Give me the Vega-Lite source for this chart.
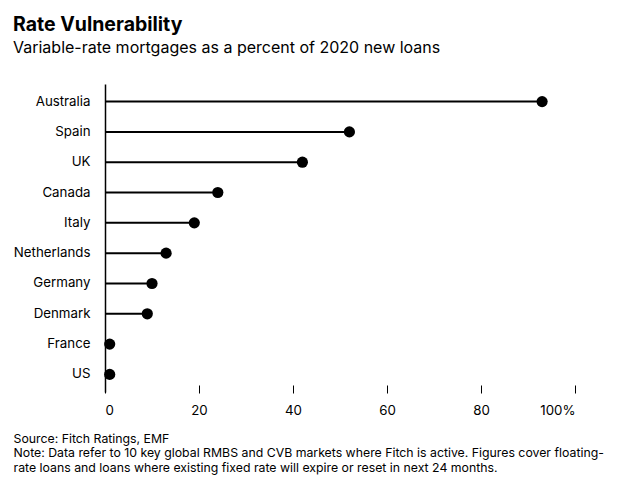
{
  "$schema": "https://vega.github.io/schema/vega-lite/v6.json",
  "width": 470,
  "height": 308,
  "autosize": "none",
  "padding": {"left": 105, "top": 84, "right": 65, "bottom": 91},
  "background": "white",
  "config": {"view": {"stroke": null}},
  "title": {
    "text": "Rate Vulnerability",
    "subtitle": "Variable-rate mortgages as a percent of 2020 new loans",
    "anchor": "start",
    "frame": "group",
    "dx": -92,
    "offset": 27,
    "font": "Inter",
    "fontSize": 19.5,
    "fontWeight": "bold",
    "color": "black",
    "subtitleFont": "Inter",
    "subtitleFontSize": 16,
    "subtitleColor": "black",
    "subtitlePadding": 5
  },
  "data": {
    "values": [
      {"country": "Australia", "value": 93},
      {"country": "Spain", "value": 52},
      {"country": "UK", "value": 42},
      {"country": "Canada", "value": 24},
      {"country": "Italy", "value": 19},
      {"country": "Netherlands", "value": 13},
      {"country": "Germany", "value": 10},
      {"country": "Denmark", "value": 9},
      {"country": "France", "value": 1},
      {"country": "US", "value": 1}
    ]
  },
  "encoding": {
    "y": {
      "field": "country",
      "type": "nominal",
      "sort": null,
      "scale": {"paddingInner": 0, "paddingOuter": 0.08},
      "axis": {
        "title": null,
        "domain": true,
        "domainColor": "black",
        "domainWidth": 1.5,
        "ticks": false,
        "labelFont": "Inter",
        "labelFontSize": 13.3,
        "labelColor": "black",
        "labelPadding": 15
      }
    },
    "x": {
      "field": "value",
      "type": "quantitative",
      "scale": {"domain": [0, 100]},
      "axis": {
        "values": [0, 20, 40, 60, 80, 100],
        "labelExpr": "datum.value == 100 ? '100%' : datum.label",
        "offset": -7,
        "domain": false,
        "grid": false,
        "ticks": true,
        "tickSize": 8,
        "tickColor": "black",
        "labelFont": "Inter",
        "labelFontSize": 13.3,
        "labelColor": "black",
        "labelPadding": 10,
        "title": [
          "Source: Fitch Ratings, EMF",
          "Note: Data refer to 10 key global RMBS and CVB markets where Fitch is active. Figures cover floating-",
          "rate loans and loans where existing fixed rate will expire or reset in next 24 months."
        ],
        "titleFont": "Inter",
        "titleFontSize": 12.3,
        "titleFontWeight": "normal",
        "titleColor": "black",
        "titleAlign": "left",
        "titleX": -92,
        "titleY": 47,
        "titleBaseline": "top",
        "titleLineHeight": 14.5
      }
    }
  },
  "layer": [
    {
      "mark": {"type": "bar", "color": "black", "height": 2}
    },
    {
      "mark": {"type": "circle", "color": "black", "opacity": 1, "size": 125}
    }
  ]
}
